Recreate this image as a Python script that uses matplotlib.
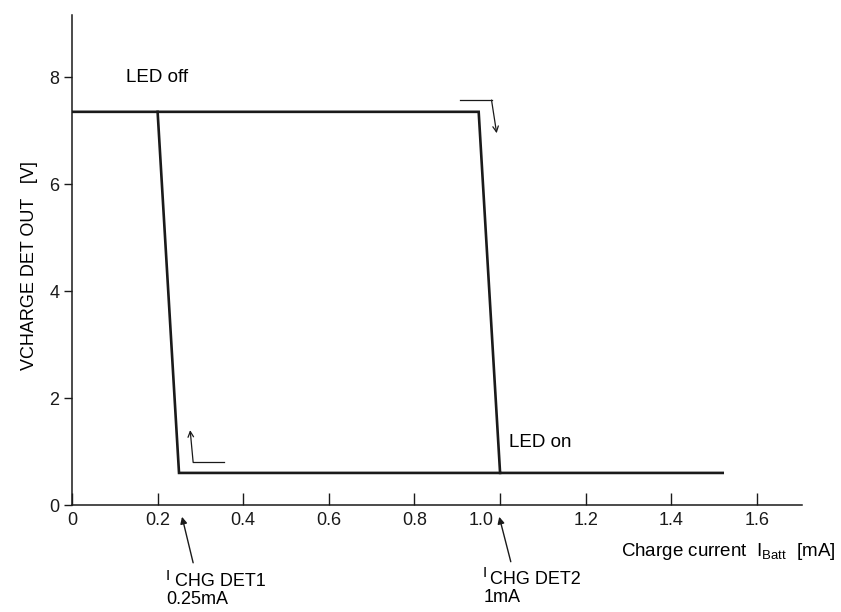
import matplotlib
matplotlib.use("Agg")
import matplotlib.pyplot as plt
import matplotlib.transforms as mtransforms

plt.rcParams['font.family'] = ['Liberation Sans', 'DejaVu Sans']

# Data: hysteresis characteristic
rise_x = [0.0, 0.95, 1.0, 1.52]
rise_y = [7.35, 7.35, 0.6, 0.6]
fall_x = [1.0, 0.25, 0.2]
fall_y = [0.6, 0.6, 7.35]

xticks = [0, 0.2, 0.4, 0.6, 0.8, 1.0, 1.2, 1.4, 1.6]
xticklabels = ['0', '0.2', '0.4', '0.6', '0.8', '1.0', '1.2', '1.4', '1.6']
yticks = [0, 2, 4, 6, 8]
yticklabels = ['0', '2', '4', '6', '8']

fig = plt.figure(figsize=(8.41, 6.12), dpi=100)
ax = fig.add_axes([0.0856, 0.1748, 0.954 - 0.0856, 0.9755 - 0.1748])

ax.plot(rise_x, rise_y, color='#1a1a1a', lw=1.9, solid_joinstyle='miter')
ax.plot(fall_x, fall_y, color='#1a1a1a', lw=1.9, solid_joinstyle='miter')

ax.set_xlim(0, 1.706)
ax.set_ylim(0, 9.16)
for s in ['top', 'right']:
    ax.spines[s].set_visible(False)
for s in ['left', 'bottom']:
    ax.spines[s].set_linewidth(1.1)
    ax.spines[s].set_color('#1a1a1a')

ax.set_xticks(xticks)
ax.set_xticklabels(xticklabels, fontsize=13)
ax.set_yticks(yticks)
ax.set_yticklabels(yticklabels, fontsize=13)
ax.tick_params(axis='x', direction='in', length=9, width=1.0, pad=5, colors='#1a1a1a')
ax.tick_params(axis='y', direction='out', length=6, width=1.0, pad=3, colors='#1a1a1a')

# shift the "1.0" label left to leave room for the pointer arrow
lbl = ax.get_xticklabels()[5]
lbl.set_transform(lbl.get_transform() + mtransforms.ScaledTranslation(-0.19, 0, fig.dpi_scale_trans))

# direction arrows
ax.plot([0.907, 0.98], [7.57, 7.57], color='#1a1a1a', lw=0.9)
ax.annotate('', xy=(0.992, 6.95), xytext=(0.98, 7.57),
            arrowprops=dict(arrowstyle='->', color='#1a1a1a', lw=0.9, shrinkA=0, shrinkB=0))
ax.plot([0.283, 0.355], [0.8, 0.8], color='#1a1a1a', lw=0.9)
ax.annotate('', xy=(0.276, 1.4), xytext=(0.283, 0.8),
            arrowprops=dict(arrowstyle='->', color='#1a1a1a', lw=0.9, shrinkA=0, shrinkB=0))

# pointer arrows below the axis
ax.annotate('', xy=(0.257, -0.22), xytext=(0.283, -1.08), annotation_clip=False,
            arrowprops=dict(arrowstyle='-|>', color='#1a1a1a', lw=1.0, mutation_scale=10,
                            shrinkA=0, shrinkB=0))
ax.annotate('', xy=(0.998, -0.22), xytext=(1.025, -1.06), annotation_clip=False,
            arrowprops=dict(arrowstyle='-|>', color='#1a1a1a', lw=1.0, mutation_scale=10,
                            shrinkA=0, shrinkB=0))

# texts
ax.text(0.127, 8.0, 'LED off', fontsize=13.5, va='center', ha='left')
ax.text(1.02, 1.16, 'LED on', fontsize=13.5, va='center', ha='left')

fig.text(166 / 841, 1 - 576 / 612, 'I', fontsize=11, ha='left', va='center')
fig.text(175 / 841, 1 - 582 / 612, 'CHG DET1', fontsize=13, ha='left', va='center')
fig.text(166 / 841, 1 - 599 / 612, '0.25mA', fontsize=13, ha='left', va='center')
fig.text(483 / 841, 1 - 573 / 612, 'I', fontsize=11, ha='left', va='center')
fig.text(490 / 841, 1 - 580 / 612, 'CHG DET2', fontsize=13, ha='left', va='center')
fig.text(484 / 841, 1 - 597 / 612, '1mA', fontsize=13, ha='left', va='center')

fig.text(835 / 841, 1 - 552 / 612, r'Charge current  I$_{\mathregular{Batt}}$  [mA]',
         fontsize=13.5, ha='right', va='center')
fig.text(30 / 841, 1 - 266 / 612, 'VCHARGE DET OUT   [V]', fontsize=13,
         rotation=90, ha='center', va='center')

fig.savefig('out.png', dpi=100, facecolor='white')
